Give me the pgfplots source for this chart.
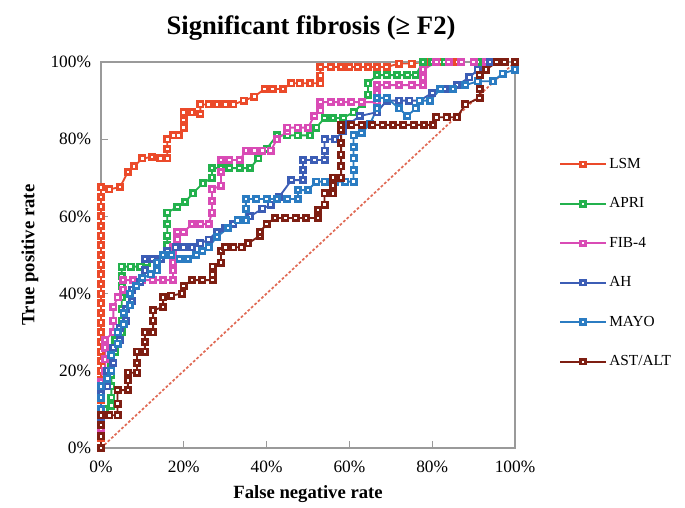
\documentclass[border=0pt]{standalone}
\usepackage{pgfplots}
\pgfplotsset{compat=1.18}
\usepackage{fontspec}
\setmainfont{Liberation Serif}
\definecolor{cLSM}{HTML}{EB4A2A}
\definecolor{cAPRI}{HTML}{23B14D}
\definecolor{cFIB}{HTML}{D94BB5}
\definecolor{cAH}{HTML}{3C5DB5}
\definecolor{cMAYO}{HTML}{2B7CC2}
\definecolor{cAST}{HTML}{7E1E12}
\definecolor{cgrid}{HTML}{9A9A9A}
\definecolor{cdiag}{HTML}{E06A55}
\begin{document}
\begin{tikzpicture}[x=1pt,y=1pt]
\path[use as bounding box] (0,0) rectangle (513.75,380.25);
\begin{axis}[
  at={(75.75pt,44.25pt)}, anchor=south west,
  scale only axis, width=310.5pt, height=289.5pt,
  xmin=0, xmax=100, ymin=0, ymax=100,
  axis line style={cgrid, line width=1.1pt},
  xtick={0,20,40,60,80,100}, ytick={0,20,40,60,80,100},
  xticklabels={0\%,20\%,40\%,60\%,80\%,100\%},
  yticklabels={0\%,20\%,40\%,60\%,80\%,100\%},
  xtick pos=bottom, ytick pos=left,
  tick align=inside, major tick length=5pt,
  tick style={cgrid, line width=1pt},
  ticklabel style={font=\fontsize{13pt}{15pt}\selectfont},
  xticklabel style={yshift=-6pt},
  yticklabel style={xshift=-4pt},
  clip=false,
  legend style={at={(1.097,0.765)}, anchor=north west, draw=none, fill=none,
    font=\fontsize{11.5pt}{13pt}\selectfont, row sep=16.5pt,
    legend cell align=left},
  legend image code/.code={\draw[mark repeat=2,mark phase=2, mark size=1.8pt] plot coordinates {(0pt,0pt)(17pt,0pt)(34pt,0pt)};},
  every axis plot/.append style={line width=1.4pt, mark=square*, mark size=2pt,
    mark options={fill=white, line width=2pt, solid}},
]
\addplot[cdiag, line width=1.3pt, dash pattern=on 2pt off 1.5pt, no marks, forget plot] coordinates {(0,0)(100,100)};
\addplot[cLSM] coordinates {
(0,0)(0,2.5)(0,5)(0,7.5)(0,10)(0,12.5)(0,15)(0,17.5)(0,20)(0,22.5)(0,25)(0,27.5)(0,30)(0,32.5)(0,35)(0,37.5)(0,40)(0,42.5)(0,45)(0,47.5)(0,50)(0,52.5)(0,55)(0,57.5)(0,60)(0,62.5)(0,65)(0,67.5)
(2,67)(4.6,67.6)(6.5,71.5)(8,73)(10,75)(12.3,75.4)(14.3,75)(16,75)(16,77.5)(16,80)(17.5,81)(18.8,81)(20,83)(20,85)(20,87)(22,87)(24,86.5)(24,89)(26,89)(28,89)(30,89)(32,89)(34.5,90)(37,91)(39.5,93)(41.5,93)(44,93)(46,94.5)(48,94.5)(50.5,94.5)(53,94.5)(53,96.5)(53,98.7)(55.5,98.7)(58,98.7)(60,98.7)(62,98.7)(64.5,98.7)(66.7,98.7)(69,98.7)(72,99.6)(75,99.6)(78,100)(82,100)(86,100)(90,100)(94,100)(97,100)(100,100)};
\addlegendentry{LSM}
\addplot[cAPRI] coordinates {
(0,0)(0,4)(0,8)(1,10)(2.5,11)(2.5,13)(2.5,16)(2.5,19)(2.5,22)(3.5,25)(3.5,28)(5,30)(5,33)(5,36)(5,39)(5,42)(5,44.5)(5,47)(7.2,47)(9.5,47)(11,48)(13,49)(16,50)(16,52.5)(16,55)(16,58)(16,61)(18.4,62.4)(20.3,63.7)(22.2,66)(24.6,68.6)(26.8,70)(26.8,72.5)(29,72.5)(31,72.5)(33.5,72.5)(36,72.5)(38,75)(40,77.5)(42.5,81)(45,81)(47.5,81)(50.5,81)(52,83)(54,85.5)(56,85.5)(58.5,85.5)(61,87)(63,89)(64.5,91.5)(64.5,94.5)(66.7,96.6)(69,96.6)(71.5,96.6)(74,96.6)(76,96.6)(77.8,100)(80,100)(83,100)(87,100)(91,100)(95,100)(100,100)};
\addlegendentry{APRI}
\addplot[cFIB] coordinates {
(0,0)(0,5)(0,10)(0,14)(0,17)(1,20)(1,23)(1,26)(1,28)(3,30)(3,33)(3,36.5)(4,39)(5.3,41)(5.3,43.5)(7.7,43.5)(10,43.5)(12.5,43.5)(15,43.5)(17.4,43.5)(17.4,46)(17.4,48)(17.4,50)(17.4,52)(18.4,54)(18.4,56)(20,56)(22,58)(24,58)(26,58)(26.8,61)(26.8,64)(26.8,67)(29,68)(29,71.5)(29,74.6)(31,74.6)(33.5,74.6)(35,77)(37,77)(39,77)(41,77)(42.5,80)(45,82)(45,83)(47.5,83)(50,83)(51.5,86)(53,87.5)(53,89.6)(55.5,89.6)(58,89.6)(60.5,89.6)(63,89.6)(66.7,89.6)(66.7,92)(66.7,94)(69,94)(72,94)(75,94)(77.8,94)(77.8,96)(77.8,98)(81,100)(84,100)(87,100)(90,100)(93,100)(100,100)};
\addlegendentry{FIB-4}
\addplot[cAH] coordinates {
(0,0)(0,8)(0,14)(1.5,16)(1.5,20)(3,22)(3,26)(4.5,28)(4.5,31)(6,33)(6,36)(7.5,38)(7.5,41)(9.5,43)(10.6,46)(10.6,49)(12.5,49)(14.5,49)(16,51)(18,52)(20,52)(22,52)(24,53)(26,54)(28,56)(30,57)(32,58)(34,59)(36,60)(39,62)(41,63)(43,65)(46,69.4)(48.8,69.4)(48.8,72)(48.8,74.6)(51.5,74.6)(54,74.6)(54,77)(54,80)(56.5,80)(58.5,82)(60,84)(62.5,86)(66.7,87)(69,90)(72,90)(74.5,90)(77,90)(80,92)(83,93)(86,94)(89,96)(91,98)(94,100)(97,100)(100,100)};
\addlegendentry{AH}
\addplot[cMAYO] coordinates {
(0,0)(0,6)(0,10)(0,13)(0,16)(1.5,18)(2.5,20)(2.5,24)(4,27)(4,30)(5.5,32)(5.5,35)(7,37)(7,40)(8.5,42)(10,44)(12,45)(13.5,46)(13.5,48)(15,50)(17,50)(19,49)(21,49)(23,50)(24.5,51)(26,52)(28,54.7)(30.7,57)(33,59)(35,59)(35,62)(35,64.5)(37.5,64.5)(40,64.5)(42.5,64.5)(45,64.5)(47.6,64.5)(47.6,66.8)(50,66.8)(52,69)(54,69)(56.5,69)(59,69)(61,69)(61,72)(61,75)(61,78)(61,81)(63,81.6)(65,84)(66.7,88)(66.7,90.7)(69,90.7)(72,88)(74,86)(76,88)(77,90)(79.5,90)(82,93)(85,93)(88,94)(91,95)(94.7,95)(97,97)(100,98)(100,100)};
\addlegendentry{MAYO}
\addplot[cAST] coordinates {
(0,0)(0,3)(0,6)(0,8.5)(2,8.5)(4,8.5)(4,11.5)(4,15)(6.5,15)(6.5,17.5)(6.5,19.5)(8.7,19.5)(8.7,22)(8.7,25)(10.6,25)(10.6,27.5)(10.6,30)(12.6,30)(12.6,33)(12.6,35.7)(15,36.5)(15,39)(17,39.5)(19.6,40)(20,42)(22,43.5)(24.5,43.5)(27,43.5)(27,45)(27,47)(29,48)(29,51)(30,52)(32,52)(34,52)(35.5,53)(38.4,55)(38.4,56)(40,58)(42,59.6)(44.5,59.6)(47,59.6)(49.5,59.6)(52.4,59.6)(52.4,61.7)(54,63)(54,66)(56,66)(56,68)(56,70)(58,70)(58,73)(58,76)(58,79)(58,82.4)(58,83.7)(60.5,83.7)(63,83.7)(65.5,83.7)(68,83.7)(70.5,83.7)(73,83.7)(75.5,83.7)(78,83.7)(80.2,83.7)(81,85.7)(83.5,85.7)(86,85.7)(88,89)(91.5,90.7)(91.5,93)(91.5,96.6)(93,98)(95.6,100)(97.5,100)(100,100)};
\addlegendentry{AST/ALT}
\draw[cgrid, line width=1.1pt] (rel axis cs:0,1) -- (rel axis cs:1,1) -- (rel axis cs:1,0);
\end{axis}
\node[font=\bfseries\fontsize{20pt}{24pt}\selectfont] at (233.25,359) {Significant fibrosis (≥ F2)};
\node[font=\bfseries\fontsize{14pt}{16pt}\selectfont] at (231,10) {False negative rate};
\node[font=\bfseries\fontsize{14pt}{16pt}\selectfont, rotate=90] at (22.5,189) {True positive rate};
\end{tikzpicture}
\end{document}
